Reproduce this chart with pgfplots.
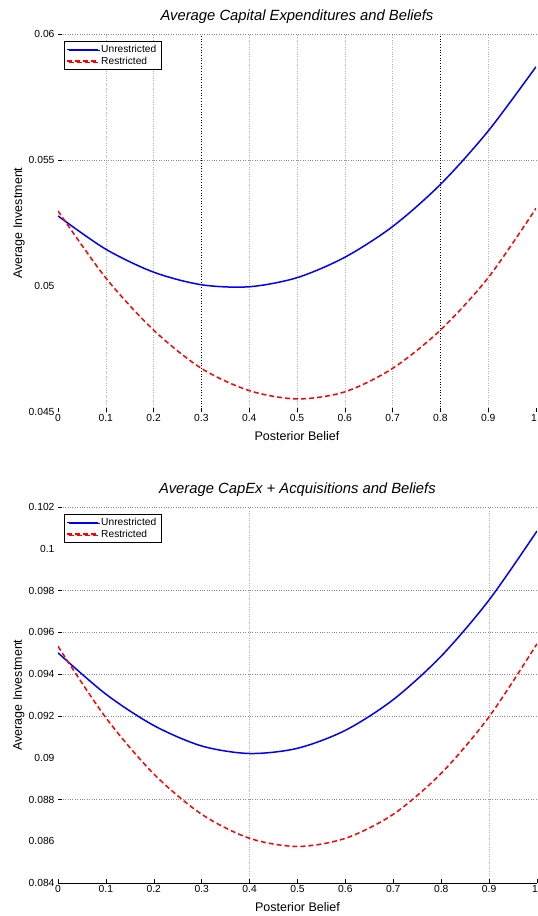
\documentclass[border=0pt]{standalone}
\usepackage{pgfplots}
\pgfplotsset{compat=1.18}
\usepackage{fontspec}
\setmainfont{Liberation Sans}
\usetikzlibrary{shadows}
\definecolor{gridgray}{gray}{0.55}
\pgfplotsset{
  mystyle/.style={
    scale only axis,
    xmin=0,xmax=1,
    axis line style={draw=none},
    xtick={0,0.1,0.2,0.3,0.4,0.5,0.6,0.7,0.8,0.9,1},
    xticklabels={0,0.1,0.2,0.3,0.4,0.5,0.6,0.7,0.8,0.9,{\makebox[1.5pt][r]{1}}},
    scaled y ticks=false, scaled x ticks=false,
    tick pos=left,
    tick align=inside,
    major tick length=4pt,
    xtick style={draw=black, line width=0.6pt},
    ytick style={draw=none},
    tick label style={font=\fontsize{10.3}{11}\selectfont},
    xticklabel style={yshift=1pt},
    xlabel={Posterior Belief}, ylabel={Average Investment},
    label style={font=\fontsize{12.5}{14}\selectfont},
    title style={font=\fontsize{14.8}{16}\selectfont\itshape, at={(axis description cs:0.5,1)}, anchor=base, yshift=8pt},
    xlabel style={at={(axis description cs:0.5,0)}, anchor=base, yshift=-28pt},
    ylabel style={at={(axis description cs:-0.0753,0.5)}, anchor=base},
    extra y tick labels={}, extra x tick labels={},
    extra y tick style={grid=major, major grid style={gridgray, dotted, line width=0.6pt}, ytick style={draw=black, line width=0.6pt}},
    extra x tick style={grid=major, major grid style={gridgray!70, dotted, line width=0.6pt}},
    legend style={at={(axis description cs:0.0126,0.981)}, anchor=north west,
      font=\fontsize{10.2}{12}\selectfont, draw=black, fill=white,
      inner xsep=2.5pt, inner ysep=1.5pt, row sep=-1pt,
      drop shadow={shadow xshift=1.2pt, shadow yshift=-1.2pt, opacity=1, fill=gray!80}},
    legend cell align=left,
    legend image code/.code={\draw[##1] (0pt,0pt) -- (31pt,0pt);},
  },
  blueline/.style={blue, line width=1.5pt, smooth},
  redline/.style={red, line width=1.5pt, dash pattern=on 5pt off 3pt, smooth},
}
\begin{document}
\begin{tikzpicture}
\path[use as bounding box] (0pt,0pt) rectangle (538pt,-916pt);
\begin{axis}[mystyle,
  at={(58pt,-412pt)}, anchor=south west, width=478pt, height=378pt,
  ymin=0.045, ymax=0.06,
  ytick={0.045,0.05,0.055,0.06},
  yticklabels={0.045,0.05,0.055,0.06},
  extra y ticks={0.055,0.06},
  extra x ticks={0.1,0.2,0.4,0.5,0.6,0.7,0.9},
  title={Average Capital Expenditures and Beliefs},
]
\draw[black, dotted, line width=0.7pt] (axis cs:0.3,0.045) -- (axis cs:0.3,0.06);
\draw[black, dotted, line width=0.7pt] (axis cs:0.8,0.045) -- (axis cs:0.8,0.06);
\addplot[blueline] coordinates {(0,0.05278)(0.1,0.05146)(0.2,0.05055)(0.3,0.05005)(0.4,0.04997)(0.5,0.05033)(0.6,0.05114)(0.7,0.05236)(0.8,0.05403)(0.9,0.05615)(1,0.0587)};
\addlegendentry{Unrestricted}
\addplot[redline] coordinates {(0,0.05298)(0.1,0.05032)(0.2,0.04825)(0.3,0.04673)(0.4,0.04585)(0.5,0.04552)(0.6,0.0458)(0.7,0.04673)(0.8,0.04825)(0.9,0.05033)(1,0.05308)};
\addlegendentry{Restricted}
\end{axis}
\begin{axis}[mystyle,
  at={(58pt,-883pt)}, anchor=south west, width=479pt, height=376pt,
  ymin=0.084, ymax=0.102,
  ytick={0.084,0.086,0.088,0.09,0.092,0.094,0.096,0.098,0.1,0.102},
  yticklabels={0.084,0.086,0.088,0.09,0.092,0.094,0.096,0.098,0.1,0.102},
  extra y ticks={0.088,0.092,0.094,0.096,0.098,0.102},
  extra x ticks={0.4,0.9},
  title={Average CapEx + Acquisitions and Beliefs},
]
\draw[black, line width=1pt] (rel axis cs:0,0) -- (rel axis cs:1,0);
\addplot[blueline] coordinates {(0,0.09502)(0.1,0.09304)(0.2,0.09154)(0.3,0.09056)(0.4,0.0902)(0.5,0.09045)(0.6,0.09131)(0.7,0.09278)(0.8,0.09486)(0.9,0.09755)(1,0.10085)};
\addlegendentry{Unrestricted}
\addplot[redline] coordinates {(0,0.09533)(0.1,0.09191)(0.2,0.08922)(0.3,0.08729)(0.4,0.08614)(0.5,0.08575)(0.6,0.08614)(0.7,0.08729)(0.8,0.08925)(0.9,0.09196)(1,0.09545)};
\addlegendentry{Restricted}
\end{axis}
\end{tikzpicture}
\end{document}
